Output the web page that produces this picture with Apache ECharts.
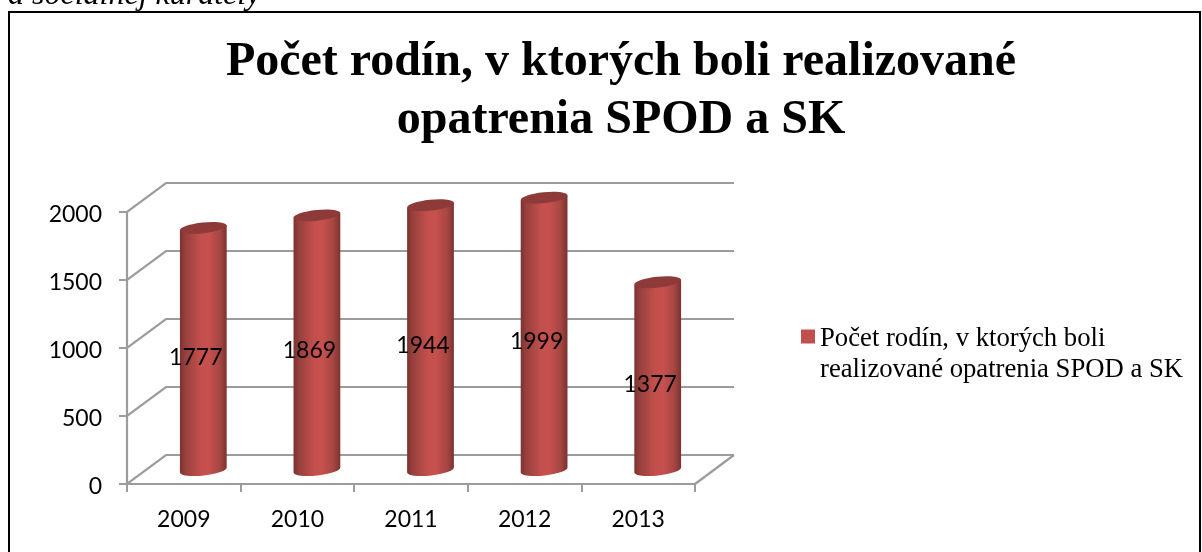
<!DOCTYPE html>
<html>
<head>
<meta charset="utf-8">
<style>html,body{margin:0;padding:0;background:#fff}#c{width:1202px;height:552px}</style>
<script src="https://cdn.jsdelivr.net/npm/echarts@6/dist/echarts.min.js"></script>
</head>
<body>
<div id="c"></div>
<script>
const categories = ['2009', '2010', '2011', '2012', '2013'];
const familyCounts = [1777, 1869, 1944, 1999, 1377];
const axisTicks = [0, 500, 1000, 1500, 2000];
const seriesName = 'Počet rodín, v ktorých boli realizované opatrenia SPOD a SK';
const titleLines = ['Počet rodín, v ktorých boli realizované', 'opatrenia SPOD a SK'];
const clippedCaption = 'a sociálnej kurately';

const DX = 39, DY = -29;
const GREY = '#9c9c9c';
const chart = echarts.init(document.getElementById('c'), null, {renderer: 'canvas'});

function renderWall(params, api) {
  const cs = params.coordSys;
  const v = api.value(0);
  const y = api.coord([0, v])[1];
  const x0 = cs.x, x1 = cs.x + cs.width;
  const ls = {stroke: GREY, lineWidth: 2.2, fill: null};
  const children = [
    {type: 'polyline', shape: {points: [[x0 - 8, y], [x0, y], [x0 + DX, y + DY], [x1 + DX, y + DY]]}, style: ls}
  ];
  if (v === 0) {
    children.push({type: 'polyline', shape: {points: [[x1, y], [x1 + DX, y + DY]]}, style: ls});
  }
  return {type: 'group', children};
}

function renderCylinder(params, api) {
  const p = api.coord([api.value(0), api.value(1)]);
  const base = api.coord([api.value(0), 0]);
  const band = api.size([1, 0])[0];
  const cx = p[0] + DX / 2;
  const rx = band * 0.207;
  const tilt = 2.5;
  const ry = 5.4;
  const top = p[1] + DY / 2;
  const bot = base[1] + DY / 2;
  const L = cx - rx, R = cx + rx;
  const d = `M${L} ${top + tilt}L${L} ${bot + tilt}A${rx} ${ry} -6 0 0 ${R} ${bot - tilt}L${R} ${top - tilt}Z`;
  return {
    type: 'group',
    children: [
      {type: 'path', shape: {pathData: d, layout: 'cover', x: L, y: top - tilt, width: 2 * rx, height: bot - top + tilt + 6},
        style: {fill: new echarts.graphic.LinearGradient(0, 0, 1, 0, [
          {offset: 0, color: '#7a3230'}, {offset: 0.12, color: '#97403d'},
          {offset: 0.45, color: '#c4504d'}, {offset: 0.62, color: '#c6504d'},
          {offset: 0.85, color: '#a64643'}, {offset: 1, color: '#7a3230'}])}},
      {type: 'ellipse', shape: {cx: cx, cy: top, rx: rx, ry: ry}, rotation: 6 * Math.PI / 180, originX: cx, originY: top,
        style: {fill: '#8d3a38'}},
      {type: 'text', z2: 50, style: {text: String(api.value(1)),
        x: base[0] + 12, y: (p[1] + base[1]) / 2 - 6,
        font: '23px Lato, "Noto Sans", sans-serif', fill: '#000', align: 'center', verticalAlign: 'middle'}}
    ]
  };
}

chart.setOption({
  animation: false,
  backgroundColor: '#fff',
  textStyle: {fontFamily: 'Lato'},
  title: {
    text: titleLines.join('\n'), left: 616, top: 29, textAlign: 'center',
    textStyle: {fontFamily: '"Liberation Serif"', fontWeight: 'bold', fontSize: 48, lineHeight: 58, color: '#000'}
  },
  legend: {
    left: 796, top: 318, orient: 'vertical', itemWidth: 14, itemHeight: 49, itemGap: 0,
    selectedMode: false,
    data: [{name: seriesName, icon: 'path://M0 0H14V14H0ZM0 49H0.01V49.01H0Z', itemStyle: {color: '#c0504d'}}],
    formatter: () => 'Počet rodín, v ktorých boli\nrealizované opatrenia SPOD a SK',
    textStyle: {fontFamily: '"Liberation Serif"', fontSize: 26.7, lineHeight: 31, color: '#000'}
  },
  grid: {left: 127, top: 212, width: 568, height: 272},
  xAxis: {
    type: 'category', data: categories, boundaryGap: true,
    axisLine: {lineStyle: {color: GREY, width: 2.2}},
    axisTick: {show: true, length: 8, lineStyle: {color: GREY, width: 2}, alignWithLabel: false},
    axisLabel: {color: '#000', fontSize: 23, fontFamily: 'Lato', margin: 24}
  },
  yAxis: {
    type: 'value', min: 0, max: 2000, interval: 500,
    axisLine: {show: true, lineStyle: {color: GREY, width: 2.2}},
    axisTick: {show: false},
    splitLine: {show: false},
    axisLabel: {margin: 25, formatter: v => '{n|' + v + '}',
      rich: {n: {color: '#000', fontSize: 23, fontFamily: 'Lato', padding: [6, 0, 0, 0]}}}
  },
  series: [
    {type: 'custom', name: 'walls', silent: true, z: 1, clip: false, encode: {x: 1, y: 0},
      renderItem: renderWall, data: axisTicks.map(t => [t, 0])},
    {type: 'custom', name: seriesName, z: 3, clip: false, itemStyle: {color: '#c0504d'},
      encode: {x: 0, y: 1}, renderItem: renderCylinder,
      data: categories.map((c, i) => [i, familyCounts[i]])}
  ],
  graphic: [
    {type: 'rect', z: -1, shape: {x: 9, y: 12, width: 1191, height: 560}, style: {fill: null, stroke: '#000', lineWidth: 2}},
    {type: 'text', style: {text: clippedCaption, x: 8, y: -20, font: 'italic 32px "Liberation Serif"', fill: '#000'}}
  ]
});
</script>
</body>
</html>
